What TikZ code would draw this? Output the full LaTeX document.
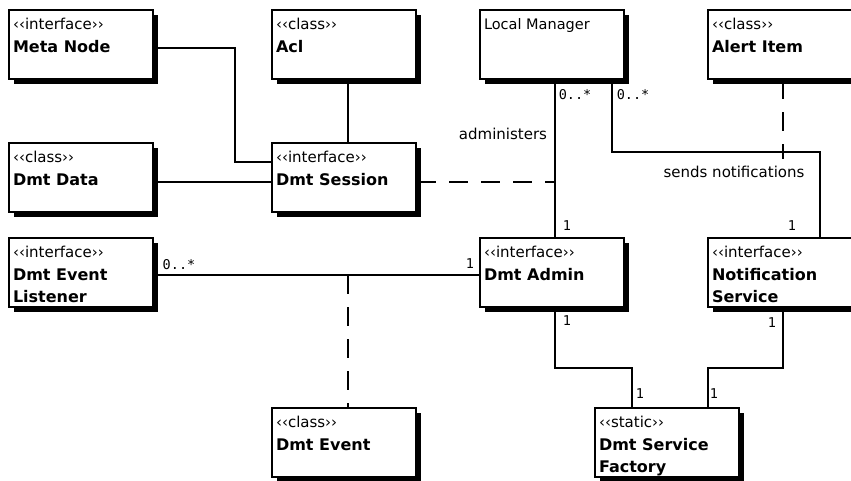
\documentclass[tikz,border=0pt]{standalone}
\usepackage{fontspec}
\setmainfont{DejaVu Sans}
\newfontfamily\multfont{DejaVu Sans Mono}
\usetikzlibrary{shadows}
\newcommand{\umlcls}[2]{\parbox[t][63pt][t]{136pt}{\fontsize{15}{15}\selectfont\rule{0pt}{16pt}‹‹#1››\\[1pt]\fontsize{16}{22}\selectfont\bfseries #2}}
\newcommand{\umlplain}[1]{\parbox[t][63pt][t]{136pt}{\fontsize{14.5}{15}\selectfont\rule{0pt}{16pt}#1}}

\begin{document}
\begin{tikzpicture}[x=1pt,y=-1pt,line width=2pt,
  umlbox/.style={draw,fill=white,anchor=north west,inner xsep=4pt,inner ysep=3pt,
    drop shadow={shadow xshift=5pt,shadow yshift=-5pt,fill=black,opacity=1}},
  mult/.style={font=\multfont\fontsize{13.5}{14}\selectfont,inner sep=0pt},
  assoc/.style={font=\fontsize{15}{16}\selectfont,inner sep=0pt},
  dep/.style={dash pattern=on 19pt off 13pt}]
\useasboundingbox (0,0) rectangle (851,480);
\node[umlbox] (meta) at (8,9) {\umlcls{interface}{Meta Node}};
\node[umlbox] (acl) at (271,9) {\umlcls{class}{Acl}};
\node[umlbox] (mgr) at (479,9) {\umlplain{Local Manager}};
\node[umlbox] (alert) at (707,9) {\umlcls{class}{Alert Item}};
\node[umlbox] (data) at (8,142) {\umlcls{class}{Dmt Data}};
\node[umlbox] (session) at (271,142) {\umlcls{interface}{Dmt Session}};
\node[umlbox] (listener) at (8,237) {\umlcls{interface}{Dmt Event\\Listener}};
\node[umlbox] (admin) at (479,237) {\umlcls{interface}{Dmt Admin}};
\node[umlbox] (notif) at (707,237) {\umlcls{interface}{Notification\\Service}};
\node[umlbox] (event) at (271,407) {\umlcls{class}{Dmt Event}};
\node[umlbox] (factory) at (594,407) {\umlcls{static}{Dmt Service\\Factory}};
\coordinate (admN) at ([xshift=3pt]admin.north);
\coordinate (sesR) at ([yshift=-4pt]session.east);
\coordinate (lisR) at ([yshift=-2.5pt]listener.east);
\coordinate (evN) at ([xshift=4pt]event.north);
\coordinate (alS) at ([xshift=2.5pt]alert.south);
\draw ([yshift=-3.5pt]meta.east) -- ++(81,0) |- ([yshift=16pt]session.west);
\draw ([yshift=-4pt]data.east) -- ([yshift=-4pt]session.west);
\draw ([xshift=4pt]acl.south) -- ([xshift=4pt]session.north);
\draw ([xshift=3pt]mgr.south) -- (admN);
\draw[dep] (sesR) -- (sesR -| admN);
\draw ([xshift=60pt]mgr.south) -- ++(0,72) -| ([xshift=40pt]notif.north);
\draw[dep] (alS) -- ++(0,79) coordinate (alE);
\draw (lisR) -- (lisR -| admin.west);
\draw[dep] (evN |- lisR) -- (evN);
\draw ([xshift=3pt]admin.south) -- ++(0,60) -| ([xshift=-35pt]factory.north);
\draw ([xshift=2.5pt]notif.south) -- ++(0,60) -| ([xshift=41pt]factory.north);
\node[mult] (mA) at (575,95) {0..*};
\node[mult] (mB) at (633,95) {0..*};
\node[assoc] (adm) at (503,134) {administers};
\node[assoc] (snd) at (734,172) {sends notifications};
\node[mult] (mC) at (567,226) {1};
\node[mult] (mD) at (792,226) {1};
\node[mult] (mE) at (179,265) {0..*};
\node[mult] (mF) at (470,264) {1};
\node[mult] (mG) at (567,321) {1};
\node[mult] (mH) at (772,323) {1};
\node[mult] (mI) at (640,394) {1};
\node[mult] (mJ) at (714,394) {1};
\end{tikzpicture}
\end{document}
